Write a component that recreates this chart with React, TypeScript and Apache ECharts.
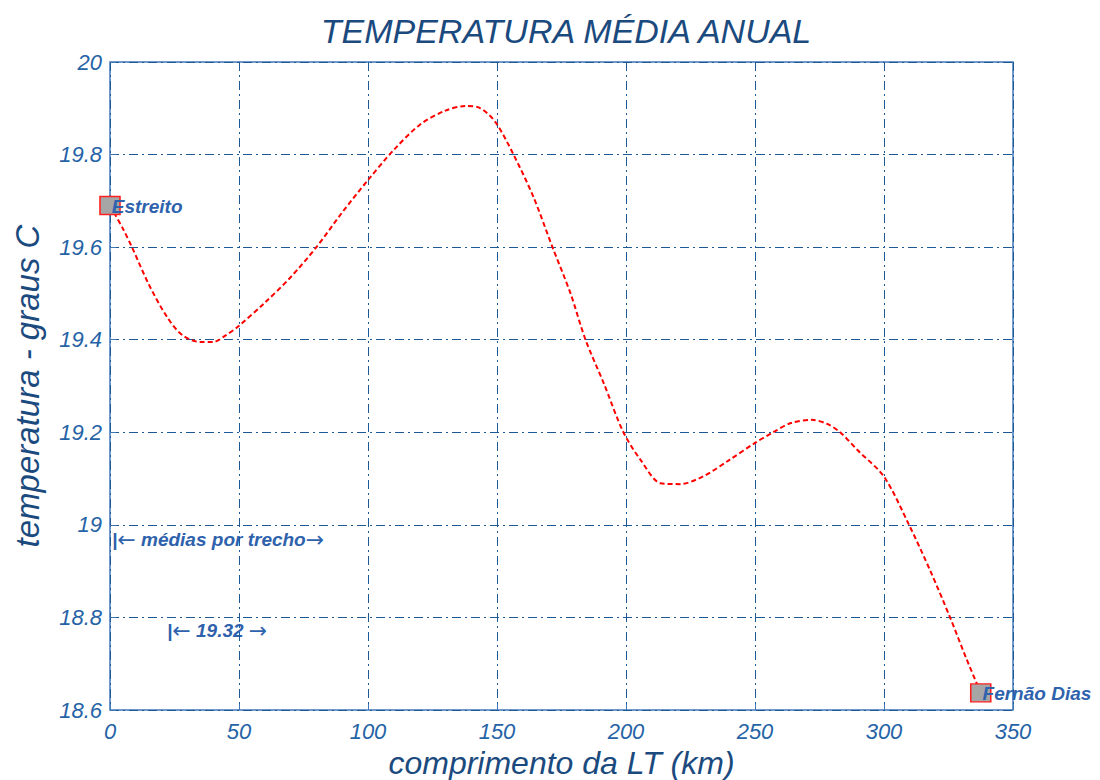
import React, { useEffect, useRef } from "react";
import * as echarts from "echarts";

const distanceKm = [0, 5, 8.5, 15, 22, 28, 35, 40, 45, 50, 60, 70, 80, 90, 100, 110, 120, 130, 138, 143.6, 149.4, 156.4, 164, 171.5, 178.5, 184.3, 191.3, 199, 205.7, 213.4, 221, 230, 240, 250, 257, 264, 272, 278, 283, 290, 300, 309.7, 318, 325.6, 332, 337.5];
const temperature = [19.69, 19.64, 19.6, 19.52, 19.45, 19.41, 19.395, 19.395, 19.41, 19.43, 19.48, 19.535, 19.6, 19.675, 19.745, 19.81, 19.864, 19.895, 19.905, 19.9, 19.87, 19.8, 19.71, 19.6, 19.5, 19.4, 19.307, 19.2, 19.14, 19.09, 19.088, 19.105, 19.14, 19.177, 19.2, 19.22, 19.227, 19.218, 19.2, 19.16, 19.104, 19.0, 18.9, 18.8, 18.71, 18.637];
const endpoints = [
  { name: "Estreito", x: 0, y: 19.69 },
  { name: "Fernão Dias", x: 337.5, y: 18.637 },
];
const title = "TEMPERATURA MÉDIA ANUAL";
const xName = "comprimento da LT (km)";
const yName = "temperatura - graus C";
const note1 = ["|", "←", " médias por trecho", "→"];
const note2 = ["|", "←", " 19.32 ", "→"];

export default function App() {
  const ref = useRef<HTMLDivElement>(null);
  useEffect(() => {
    const chart = echarts.init(ref.current!, undefined, { renderer: "svg" });
    const gridLine = { color: "#1d5a95", width: 1, type: [9, 4, 2, 4] as any };
    const labelFont = { fontFamily: "Liberation Sans", fontStyle: "italic" as const, color: "#2563a6", fontSize: 22 };
    const noteStyle = (parts: string[]) => ({
      text: `${parts[0]}{a|${parts[1]}}${parts[2]}{a|${parts[3]}}`,
      fontFamily: "Liberation Sans",
      fontStyle: "italic",
      fontWeight: "bold",
      fontSize: 19,
      fill: "#2f62ad",
      rich: { a: { fontFamily: "DejaVu Sans", fontSize: 22, fontWeight: "normal", fill: "#2f62ad" } },
    });
    chart.setOption({
      animation: false,
      backgroundColor: "#ffffff",
      title: {
        text: title,
        left: 561,
        textAlign: "center",
        top: 9,
        textStyle: { fontFamily: "Liberation Sans", fontStyle: "italic", fontWeight: "normal", fontSize: 34, color: "#1b4a7e" },
      },
      grid: { left: 110, right: 87, top: 62, bottom: 70, show: true, borderColor: "#3f78b8", borderWidth: 1.5, backgroundColor: "transparent", outerBoundsMode: "none", containLabel: false },
      xAxis: {
        type: "value",
        min: 0,
        max: 350,
        interval: 50,
        name: xName,
        nameLocation: "middle",
        nameGap: 32,
        nameTextStyle: { fontFamily: "Liberation Sans", fontStyle: "italic", fontSize: 32, color: "#1b4a7e" },
        axisLine: { show: false },
        axisTick: { show: true, inside: true, length: 6, lineStyle: { color: "#3f78b8" } },
        axisLabel: { ...labelFont, margin: 10 },
        splitLine: { show: true, lineStyle: gridLine },
      },
      yAxis: {
        type: "value",
        min: 18.6,
        max: 20,
        interval: 0.2,
        name: yName,
        nameLocation: "middle",
        nameGap: 66,
        nameTextStyle: { fontFamily: "Liberation Sans", fontStyle: "italic", fontSize: 33, color: "#1b4a7e" },
        axisLine: { show: false },
        axisTick: { show: true, inside: true, length: 6, lineStyle: { color: "#3f78b8" } },
        axisLabel: { ...labelFont, margin: 8, formatter: (v: number) => String(Math.round(v * 10) / 10) },
        splitLine: { show: true, lineStyle: gridLine },
      },
      series: [
        {
          type: "line",
          data: distanceKm.map((d, i) => [d, temperature[i]]),
          smooth: 0.3,
          showSymbol: false,
          lineStyle: { color: "#ff0000", width: 2, type: [5, 3] as any },
          z: 3,
        },
        {
          type: "scatter",
          data: endpoints.map((p) => ({ value: [p.x, p.y], name: p.name })),
          symbol: "rect",
          symbolSize: [20, 18],
          itemStyle: { color: "#a6a6a6", borderColor: "#ff2020", borderWidth: 1.5, opacity: 1 },
          label: {
            show: true,
            position: "right",
            offset: [-14, 1],
            formatter: (p: any) => p.name,
            fontFamily: "Liberation Sans",
            fontStyle: "italic",
            fontWeight: "bold",
            fontSize: 19,
            color: "#2f62ad",
            opacity: 1,
          },
          z: 4,
        },
      ],
      graphic: [
        { type: "text", left: 112, top: 528, style: noteStyle(note1) },
        { type: "text", left: 167, top: 619, style: noteStyle(note2) },
      ],
    });
    return () => chart.dispose();
  }, []);
  return <div ref={ref} style={{ position: "fixed", left: 0, top: 0, width: 1100, height: 780 }} />;
}
